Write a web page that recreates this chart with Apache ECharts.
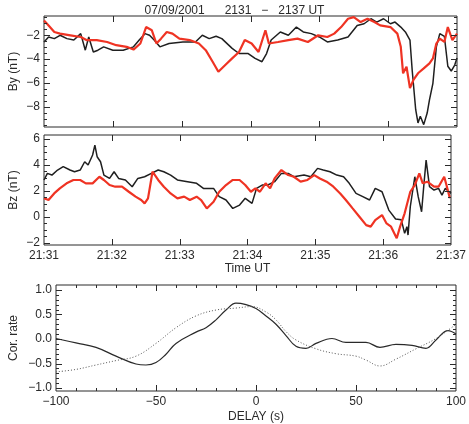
<!DOCTYPE html>
<html>
<head>
<meta charset="utf-8">
<script src="https://cdn.jsdelivr.net/npm/echarts@6/dist/echarts.min.js"></script>
<style>
  html, body { margin: 0; padding: 0; background: #fff; }
  #chart { width: 469px; height: 424px; }
</style>
</head>
<body>
<div id="chart"></div>
<script>
// seconds after 21:31:00
const byBlackT = [0, 4, 9, 14, 20, 26, 32, 36, 39, 43, 47, 52, 60, 69, 78, 83, 88, 92, 96, 101,
  109, 121, 132, 138, 144, 150, 155, 164, 170, 178, 184, 190, 194, 198, 206, 213, 220, 226, 233, 240,
  247, 256, 265, 273, 279, 285, 290, 296, 302, 306, 311, 315, 319, 321, 324, 326, 328, 331, 334, 336,
  339, 342, 345, 349, 352, 355, 358, 360]
const byBlackV = [-2.56, -2.14, -2.28, -2.0, -2.28, -2.4, -1.86, -3.25, -2.14, -3.4, -3.25, -2.97, -3.25, -3.25, -2.97, -2.4, -1.86, -2.0, -2.4, -2.97,
  -2.69, -2.56, -2.56, -2.0, -2.28, -2.08, -2.28, -3.1, -3.53, -3.53, -3.94, -4.22, -3.53, -2.4, -1.72, -2.0, -1.31, -1.72, -1.86, -2.14,
  -2.56, -2.4, -2.14, -1.17, -1.03, -0.61, -0.89, -0.61, -1.03, -0.89, -1.31, -1.72, -2.4, -5.0, -8.25, -9.36, -8.8, -9.5, -8.53, -7.42,
  -6.03, -2.97, -1.86, -2.1, -4.6, -5.0, -4.5, -3.9]

const byRedT = [0, 4, 9, 14, 23, 32, 37, 46, 55, 63, 72, 78, 84, 89, 94, 98, 102, 107, 112, 118,
  127, 135, 141, 147, 152, 158, 164, 170, 175, 181, 187, 193, 196, 204, 213, 221, 230, 239, 247, 253,
  259, 265, 270, 276, 282, 288, 293, 302, 308, 311, 313, 316, 319, 322, 326, 331, 336, 339, 342, 345,
  349, 352, 356, 360]
const byRedV = [-0.75, -1.17, -1.72, -1.86, -2.0, -2.14, -2.4, -2.4, -2.56, -2.83, -2.97, -3.2, -2.69, -1.31, -1.58, -2.69, -2.28, -1.72, -1.86, -2.28,
  -2.4, -2.69, -3.25, -4.22, -5.06, -4.5, -3.94, -3.4, -2.4, -2.69, -3.4, -1.58, -2.69, -2.56, -2.4, -2.28, -2.56, -2.0, -2.14, -1.86,
  -1.31, -0.61, -0.47, -0.89, -0.61, -0.89, -1.17, -1.31, -1.86, -2.97, -5.19, -4.64, -6.44, -5.75, -5.19, -4.78, -4.36, -3.94, -2.69, -2.28,
  -2.56, -1.31, -2.4, -1.86]

const bzBlackT = [0, 3, 7, 12, 17, 23, 27, 32, 36, 39, 43, 45, 47, 50, 53, 58, 62, 66, 72, 78,
  83, 89, 95, 101, 106, 112, 118, 127, 135, 141, 150, 155, 161, 167, 173, 178, 184, 188, 193, 198,
  204, 210, 216, 221, 230, 236, 242, 247, 253, 259, 265, 270, 276, 282, 288, 293, 299, 305, 311, 316,
  319, 321, 322, 324, 328, 331, 334, 336, 338, 341, 345, 349, 352, 355, 360]
const bzBlackV = [2.84, 3.35, 3.22, 3.61, 3.87, 3.61, 3.48, 3.61, 4.25, 4.0, 4.77, 5.54, 4.64, 4.25, 3.22, 2.96, 3.48, 2.96, 2.84, 2.32,
  2.96, 3.09, 3.35, 3.61, 3.48, 3.22, 2.84, 2.71, 2.58, 2.19, 2.19, 1.55, 1.29, 0.64, 0.9, 1.42, 1.03, 2.19, 2.45, 2.45,
  2.71, 3.35, 3.35, 3.09, 3.22, 3.09, 3.74, 3.61, 3.48, 3.22, 3.09, 2.58, 1.8, 1.55, 1.29, 2.19, 1.93, 0.51, -0.18, -0.23,
  -1.29, -0.77, -1.42, 0.77, 3.09, 1.55, 0.38, 2.45, 4.38, 2.32, 2.06, 2.19, 1.67, 2.19, 1.8]

const bzRedT = [0, 4, 9, 14, 20, 26, 32, 37, 43, 49, 53, 58, 63, 69, 75, 81, 86, 89, 92, 96,
  101, 106, 112, 118, 124, 129, 135, 139, 144, 150, 155, 161, 167, 173, 178, 183, 187, 191, 196, 200,
  204, 210, 216, 221, 227, 233, 239, 244, 250, 256, 262, 267, 273, 279, 285, 289, 293, 299, 303, 307,
  312, 315, 319, 324, 328, 332, 335, 339, 345, 349, 354, 356, 359]
const bzRedV = [1.42, 1.29, 1.8, 2.19, 2.58, 2.84, 2.84, 2.58, 2.58, 3.09, 2.84, 2.45, 2.32, 2.32, 1.93, 1.55, 1.29, 1.03, 1.42, 3.48,
  2.84, 2.32, 1.8, 1.42, 1.55, 1.29, 1.55, 1.29, 0.64, 1.16, 1.93, 2.45, 2.84, 2.84, 2.45, 1.93, 2.19, 1.93, 2.58, 2.19,
  2.96, 3.61, 3.22, 3.09, 2.71, 2.84, 3.22, 2.96, 2.71, 2.32, 1.8, 1.29, 0.64, 0.0, -0.65, -0.77, -0.26, 0.13, -0.52, -0.77,
  -1.67, -0.77, 0.26, 1.93, 2.45, 3.35, 2.58, 2.71, 2.32, 2.32, 3.09, 2.45, 1.42]

const corSolidD = [-100, -90, -80, -70, -60, -55, -50, -45, -40, -30, -25, -20, -15, -10, -5, 0, 5, 10, 15, 20,
  25, 30, 38, 45, 55, 62, 70, 78, 85, 90, 96, 100]
const corSolidV = [0.01, -0.08, -0.17, -0.35, -0.51, -0.53, -0.48, -0.31, -0.09, 0.14, 0.23, 0.39, 0.59, 0.73, 0.7, 0.62, 0.47, 0.3, 0.07, -0.15,
  -0.19, -0.09, 0.01, -0.07, -0.07, -0.17, -0.11, -0.13, -0.19, -0.02, 0.17, 0.1]
const corDotD = [-100, -90, -80, -70, -60, -50, -40, -30, -20, -10, -2, 5, 10, 15, 20, 30, 40, 50, 55, 62, 70, 80, 90, 100]
const corDotV = [-0.67, -0.62, -0.53, -0.44, -0.35, -0.09, 0.23, 0.47, 0.59, 0.63, 0.66, 0.55, 0.39, 0.15, -0.02, -0.2, -0.3, -0.35, -0.43, -0.55, -0.41, -0.2, 0.01, 0.3]

// frame tick positions
const timeTicks = [60, 120, 180, 240, 300]
const byTicks = [-8, -6, -4, -2]
const byMinor = [-9.5, -9, -8.5, -7.5, -7, -6.5, -5.5, -5, -4.5, -3.5, -3, -2.5, -1.5, -1, -0.5]
const bzTicks = [-2, 0, 2, 4, 6]
const bzMinor = [-1.5, -1, -0.5, 0.5, 1, 1.5, 2.5, 3, 3.5, 4.5, 5, 5.5]
const delayTicks = [-50, 0, 50]
const delayMinor = [-90, -80, -70, -60, -40, -30, -20, -10, 10, 20, 30, 40, 60, 70, 80, 90]
const corTicks = [-1, -0.5, 0, 0.5, 1]
const corMinor = [-0.9, -0.8, -0.7, -0.6, -0.4, -0.3, -0.2, -0.1, 0.1, 0.2, 0.3, 0.4, 0.6, 0.7, 0.8, 0.9]

const INK = '#2a2a2a'
const FONT = 'Liberation Sans'
const minus = s => String(s).replace('-', '\u2212')
const zip = (xs, ys) => xs.map((x, i) => [x, ys[i]])
const textStyle = { color: INK, fontSize: 12, fontFamily: FONT }

const grids = [
  { left: 40, top: 16, width: 417, height: 111 },
  { left: 40, top: 135, width: 417, height: 110 },
  { left: 40, top: 285, width: 417, height: 112 },
]

const xAxes = []
const yAxes = []

function xAxis(grid, min, max, interval, label, name, nameGap) {
  xAxes.push({
    gridIndex: grid, type: 'value', min, max, interval,
    axisLine: { show: false, onZero: false }, splitLine: { show: false }, axisTick: { show: false },
    axisLabel: label ? { ...textStyle, margin: 5, formatter: label } : { show: false },
    name, nameLocation: 'middle', nameGap, nameMoveOverlap: false, nameTextStyle: textStyle,
  })
  return xAxes.length - 1
}

function yAxis(grid, min, max, major, label, name, nameGap) {
  yAxes.push({
    gridIndex: grid, type: 'value', min, max,
    axisLine: { show: false, onZero: false }, splitLine: { show: false }, axisTick: { show: false },
    axisLabel: { ...textStyle, margin: 4, customValues: major, formatter: label },
    name, nameLocation: 'middle', nameGap, nameMoveOverlap: false, nameTextStyle: textStyle,
  })
  return yAxes.length - 1
}

const timeLabel = v => '21:' + (31 + Math.round(v / 60))

const x0 = xAxis(0, 0, 360, 60, null, '', 0)
const y0 = yAxis(0, -9.7, -0.38, byTicks, v => minus(v), 'By (nT)', 24)
const x1 = xAxis(1, 0, 360, 60, timeLabel, 'Time UT', 18)
const y1 = yAxis(1, -2.19, 6.32, bzTicks, v => minus(v), 'Bz (nT)', 24)
const x2 = xAxis(2, -100, 100, 50, v => minus(v), 'DELAY (s)', 20)
const y2 = yAxis(2, -1.06, 1.1, corTicks, v => minus(v.toFixed(1)), 'Cor. rate', 36)

// IDL-style inward ticks on all four sides, placed through the axis scales
function tickData(xMajor, xMinor, yMajor, yMinor, xMin, yMin) {
  return [
    ...xMajor.map(v => [v, yMin, 6, 0]),
    ...xMinor.map(v => [v, yMin, 3, 0]),
    ...yMajor.map(v => [xMin, v, 6, 1]),
    ...yMinor.map(v => [xMin, v, 3, 1]),
  ]
}

function renderTick(params, api) {
  const cs = params.coordSys
  const p = api.coord([api.value(0), api.value(1)])
  const len = api.value(2)
  const style = { stroke: INK, lineWidth: 1 }
  let segs
  if (api.value(3) === 0) {
    const x = Math.round(p[0]) + 0.5
    const b = cs.y + cs.height
    segs = [[x, b, x, b - len], [x, cs.y, x, cs.y + len]]
  } else {
    const y = Math.round(p[1]) + 0.5
    const r = cs.x + cs.width
    segs = [[cs.x, y, cs.x + len, y], [r, y, r - len, y]]
  }
  return {
    type: 'group',
    children: segs.map(s => ({ type: 'line', shape: { x1: s[0], y1: s[1], x2: s[2], y2: s[3] }, style })),
  }
}

const ticks = (xi, yi, data) => ({
  type: 'custom', xAxisIndex: xi, yAxisIndex: yi, data,
  renderItem: renderTick, clip: false, silent: true, z: 5,
  encode: { x: 0, y: 1 },
})

const line = (xi, yi, data, color, width, extra) => ({
  type: 'line', xAxisIndex: xi, yAxisIndex: yi, data,
  showSymbol: false, symbol: 'none', animation: false,
  lineStyle: { color, width }, ...extra,
})

const chart = echarts.init(document.getElementById('chart'), null, { renderer: 'canvas' })
chart.setOption({
  backgroundColor: '#fff',
  animation: false,
  title: {
    text: '07/09/2001      2131   \u2212   2137 UT',
    left: 'center', top: 0,
    textStyle: { ...textStyle, fontWeight: 'normal' },
  },
  grid: grids.map(g => ({ ...g, show: true, borderColor: INK, borderWidth: 1, backgroundColor: 'transparent' })),
  xAxis: xAxes,
  yAxis: yAxes,
  series: [
    line(x0, y0, zip(byBlackT, byBlackV), '#1f1f1f', 1.5),
    line(x0, y0, zip(byRedT, byRedV), '#ef3323', 2.2),
    line(x1, y1, zip(bzBlackT, bzBlackV), '#1f1f1f', 1.5),
    line(x1, y1, zip(bzRedT, bzRedV), '#ef3323', 2.2),
    line(x2, y2, zip(corSolidD, corSolidV), '#2a2a2a', 1.2, { smooth: 0.4 }),
    line(x2, y2, zip(corDotD, corDotV), '#555', 1, { smooth: 0.4, lineStyle: { color: '#555', width: 1, type: [1, 2] } }),
    ticks(x0, y0, tickData(timeTicks, [], byTicks, byMinor, 0, -9.7)),
    ticks(x1, y1, tickData(timeTicks, [], bzTicks, bzMinor, 0, -2.19)),
    ticks(x2, y2, tickData(delayTicks, delayMinor, corTicks, corMinor, -100, -1.06)),
  ],
})
</script>
</body>
</html>
